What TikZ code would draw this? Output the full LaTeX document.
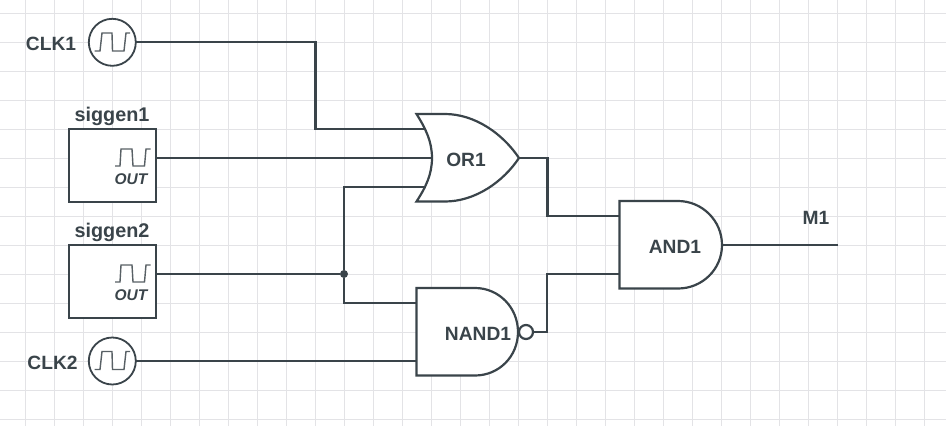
\documentclass[tikz,border=0pt]{standalone}
\usepackage{fontspec}
\setmainfont{Liberation Sans}
\definecolor{ink}{HTML}{3A444A}
\definecolor{gridc}{HTML}{E3E3E6}
\tikzset{
  gridline/.style={draw=gridc,line width=1pt},
  wire/.style={draw=ink,line width=2.2pt,line join=miter},
  gate/.style={draw=ink,line width=2.2pt,fill=white,line join=miter},
  srcbox/.style={rectangle,draw=ink,line width=2.2pt,fill=white,minimum width=87pt,minimum height=73pt,inner sep=0pt,outer sep=0pt},
  clk/.style={circle,draw=ink,line width=1.8pt,fill=white,minimum size=47pt,inner sep=0pt,outer sep=0pt},
  bubble/.style={circle,draw=ink,line width=2.2pt,fill=white,minimum size=14pt,inner sep=0pt,outer sep=0pt},
  dotj/.style={circle,fill=ink,minimum size=8pt,inner sep=0pt,outer sep=0pt},
  wave/.style={draw=ink!85,line width=1.4pt,line join=miter},
  lab/.style={text=ink,font=\fontsize{19.2}{19.2}\selectfont\bfseries,inner sep=0pt},
  siglab/.style={text=ink,font=\fontsize{19.8}{19.8}\selectfont\bfseries,inner sep=0pt},
  outlab/.style={text=ink,font=\fontsize{15.5}{15.5}\selectfont\bfseries\itshape,inner sep=0pt}
}
\begin{document}
\begin{tikzpicture}[x=1pt,y=-1pt]
\useasboundingbox (0,0) rectangle (946,426);
\fill[white] (0,0) rectangle (946,426);
% grid
\foreach \gx in {25.5,54.5,...,946}{\path[gridline] (\gx,0) -- (\gx,426);}
\foreach \gy in {13.5,42.5,...,426}{\path[gridline] (0,\gy) -- (946,\gy);}
% pins
\coordinate (orInA) at (425,129);
\coordinate (orInB) at (432,158);
\coordinate (orInC) at (425,187);
\coordinate (orOut) at (519,158);
\coordinate (nandInA) at (416.5,303);
\coordinate (nandInB) at (416.5,361);
\coordinate (andInA) at (619.5,216);
\coordinate (andInB) at (619.5,274);
\coordinate (andOut) at (722,245);
\coordinate (mEnd) at (838,245);
\coordinate (sigAout) at (156,158);
\coordinate (sigBout) at (156,274);
% sources
\node[clk] (clkA) at (112.3,42.3) {};
\node[clk] (clkB) at (112.3,361) {};
\node[srcbox] (sigA) at (112.5,165.5) {};
\node[srcbox] (sigB) at (112.5,281.5) {};
\node[dotj] (jn) at (344,274) {};
% wires
\draw[wire] (clkA.east) -| (315.5,129) -- (orInA);
\draw[wire] (sigAout) -- (orInB);
\draw[wire] (sigBout) -- (jn);
\draw[wire] (jn) |- (orInC);
\draw[wire] (jn) |- (nandInA);
\draw[wire] (clkB.east) -- (nandInB);
\draw[wire] (orOut) -- (547.5,158) |- (andInA);
\draw[wire] (andOut) -- (mEnd);
% OR gate
\path[gate] (416.5,114) -- (445,114) .. controls (475,114) and (503,134) .. (519,158)
  .. controls (503,182) and (475,201.5) .. (445,201.5) -- (416.5,201.5)
  .. controls (426,187) and (432,174) .. (432,158)
  .. controls (432,142) and (426,129) .. (416.5,114) -- cycle;
% NAND gate
\path[gate] (416.5,288) -- (475,288) .. controls (499,288) and (518,307.7) .. (518,332)
  .. controls (518,356.3) and (499,375.5) .. (475,375.5) -- (416.5,375.5) -- cycle;
\node[bubble] (bub) at (526,332) {};
\draw[wire] (bub.east) -- (547,332) |- (andInB);
% AND gate
\path[gate] (619.5,201) -- (678,201) .. controls (702,201) and (722,220.5) .. (722,245)
  .. controls (722,269.5) and (702,288.5) .. (678,288.5) -- (619.5,288.5) -- cycle;
% waveforms
\draw[wave] (94.5,51) -- (100,51) -- (102,33) -- (112,33) -- (112.5,51) -- (124,51) -- (126,33) -- (130,33);
\draw[wave] (94.5,369.5) -- (100,369.5) -- (102,351.5) -- (112,351.5) -- (112.5,369.5) -- (124,369.5) -- (126,351.5) -- (130,351.5);
\draw[wave] (115,166) -- (120,166) -- (121,149) -- (132,149) -- (133,166) -- (144.5,166) -- (146,149) -- (150.5,149);
\draw[wave] (115,282) -- (120,282) -- (121,265) -- (132,265) -- (133,282) -- (144.5,282) -- (146,265) -- (150.5,265);
% labels
\node[outlab] (outA) at (131,179.5) {OUT};
\node[outlab] (outB) at (131,295.5) {OUT};
\node[lab] (tClkA) at (51,43.5) {CLK1};
\node[lab] (tClkB) at (52.5,362.5) {CLK2};
\node[siglab] (tSigA) at (112,116) {siggen1};
\node[siglab] (tSigB) at (112,232) {siggen2};
\node[lab] (tOr) at (466,159.5) {OR1};
\node[lab] (tNand) at (478,333.5) {NAND1};
\node[lab] (tAnd) at (675,246.5) {AND1};
\node[lab] (tM) at (816,218) {M1};
\end{tikzpicture}
\end{document}
